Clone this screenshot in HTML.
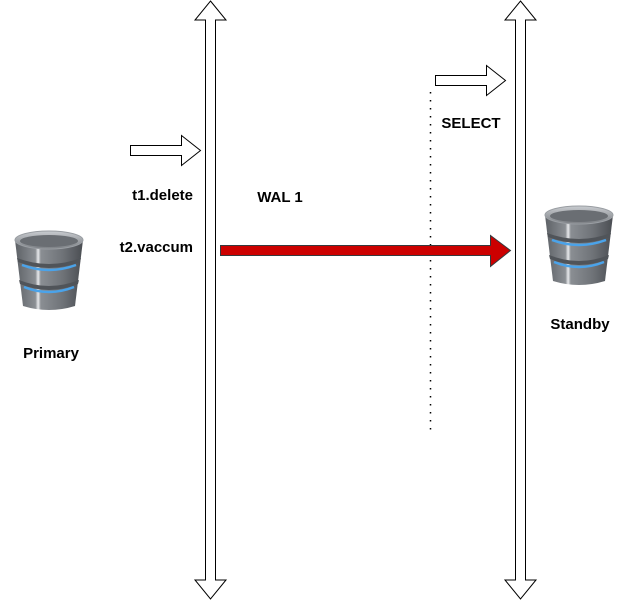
<!DOCTYPE html>
<html><head><style>
html,body{margin:0;padding:0;background:#fff;width:631px;height:600px;overflow:hidden}
svg{display:block}
text{font-family:"Liberation Sans",Arial,sans-serif;font-weight:bold;font-size:15px;fill:#000}
</style></head><body>
<svg width="631" height="600" viewBox="0 0 631 600" xmlns="http://www.w3.org/2000/svg">
<defs>
<linearGradient id="bg" x1="0" x2="1" y1="0" y2="0">
<stop offset="0" stop-color="#5d6166"/>
<stop offset="0.3" stop-color="#8a8e93"/>
<stop offset="0.34" stop-color="#e8eaec"/>
<stop offset="0.38" stop-color="#8a8e93"/>
<stop offset="0.7" stop-color="#6f7378"/>
<stop offset="1" stop-color="#4a4d52"/>
</linearGradient>
<linearGradient id="tg" x1="0" x2="0" y1="0" y2="1">
<stop offset="0" stop-color="#c9ccd0"/>
<stop offset="1" stop-color="#7b7f84"/>
</linearGradient>
<g id="db">
<path d="M1,10 L9,76 Q35,84 61,76 L69,10 Z" fill="url(#bg)"/>
<path d="M3,28 Q35,40 67,28 L66,32 Q35,44 4,32 Z" fill="#505459"/>
<path d="M8,35 Q35,45 62,35" stroke="#4aa3ea" stroke-width="2.5" fill="none"/>
<path d="M5,50 Q35,62 65,50 L64,54 Q35,66 6,54 Z" fill="#505459"/>
<path d="M10,57 Q35,67 60,57" stroke="#4aa3ea" stroke-width="2.5" fill="none"/>
<ellipse cx="35" cy="10" rx="34" ry="9" fill="url(#tg)"/>
<ellipse cx="35" cy="11" rx="29" ry="6" fill="#6a6e73"/>
<ellipse cx="35" cy="10" rx="34" ry="9" fill="none" stroke="#9a9ea3" stroke-width="1"/>
</g>
</defs>
<polygon points="210.5,1 226,20 215.5,20 215.5,580 226,580 210.5,599 195,580 205.5,580 205.5,20 195,20" fill="#fff" stroke="#000" stroke-width="1"/>
<polygon points="520.5,1 536,20 525.5,20 525.5,580 536,580 520.5,599 505,580 515.5,580 515.5,20 505,20" fill="#fff" stroke="#000" stroke-width="1"/>
<polygon points="130.5,145.5 181.5,145.5 181.5,135.5 200.5,150.5 181.5,165.5 181.5,155.5 130.5,155.5" fill="#fff" stroke="#000" stroke-width="1"/>
<polygon points="435.5,75.5 486.5,75.5 486.5,65.5 505.5,80.5 486.5,95.5 486.5,85.5 435.5,85.5" fill="#fff" stroke="#000" stroke-width="1"/>
<line x1="430.5" y1="92" x2="430.5" y2="432" stroke="#000" stroke-width="1.5" stroke-dasharray="1.5,6.5"/>
<polygon points="220.5,245.5 490.5,245.5 490.5,235.5 510.5,250.5 490.5,266.5 490.5,255.5 220.5,255.5" fill="#cc0000" stroke="#36393d" stroke-width="1"/>
<use href="#db" x="14" y="230"/>
<use href="#db" x="544" y="205"/>
<text x="51" y="358" text-anchor="middle">Primary</text>
<text x="580" y="329" text-anchor="middle">Standby</text>
<text x="193" y="200" text-anchor="end">t1.delete</text>
<text x="193" y="252" text-anchor="end">t2.vaccum</text>
<text x="280" y="202" text-anchor="middle">WAL 1</text>
<text x="471" y="128" text-anchor="middle">SELECT</text>
</svg>
</body></html>
